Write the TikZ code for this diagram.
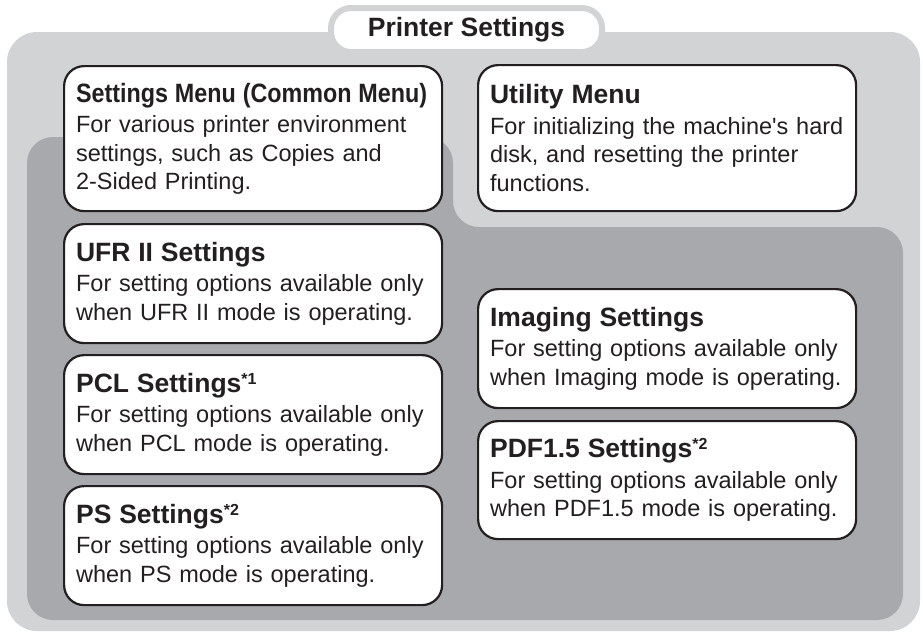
\documentclass[tikz,border=0pt]{standalone}
\usepackage{fontspec}
\setmainfont{Liberation Sans}
\usepackage{graphicx}
\usepackage{xcolor}
\definecolor{lightgrey}{HTML}{D1D3D4}
\definecolor{darkgrey}{HTML}{A7A9AC}
\definecolor{ink}{HTML}{231F20}
\newcommand{\menutext}[2]{{\fontsize{26.5}{28.5}\selectfont\bfseries #1}\\[2pt]#2}
\newcommand{\fnmark}[1]{\smash{\raisebox{8pt}{\fontsize{16}{16}\selectfont *#1}}}

\begin{document}
\begin{tikzpicture}[x=1pt, y=-1pt,
	menu/.style={draw=ink, line width=2.2pt, fill=white, rounded corners=20pt, anchor=north west,
		minimum width=378pt, minimum height=119pt, text width=354pt, inner xsep=12pt, align=left,
		text=ink, font=\fontsize{23.5}{28.5}\selectfont}]
	\useasboundingbox (0,0) rectangle (923,633);
	\fill[lightgrey, rounded corners=30pt] (7,32) rectangle (920,631);
	\fill[darkgrey, rounded corners=26pt] (27,620) -- (27,137) -- (453,137) -- (453,227) -- (903,227) -- (903,620) -- cycle;
	\node[fill=white, draw=lightgrey, line width=6pt, rounded corners=20pt, minimum width=271pt, minimum height=44pt,
		text=ink, font=\fontsize{26.5}{30}\selectfont\bfseries] (title) at (466.5,30) {Printer Settings};
	\node[menu, minimum height=145pt] (common) at (63,65) {\menutext{\scalebox{0.88}[1]{Settings Menu (Common Menu)}}{For various printer environment\\settings, such as Copies and\\2-Sided Printing.}};
	\node[menu, minimum height=146pt] (utility) at (477,64) {\menutext{Utility Menu}{For initializing the machine\textquotesingle s hard\\disk, and resetting the printer\\functions.}};
	\node[menu] (ufr) at (63,223) {\menutext{UFR II Settings}{For setting options available only\\when UFR II mode is operating.}};
	\node[menu] (pcl) at (63,354) {\menutext{PCL Settings\fnmark{1}}{For setting options available only\\when PCL mode is operating.}};
	\node[menu] (ps) at (63,485) {\menutext{PS Settings\fnmark{2}}{For setting options available only\\when PS mode is operating.}};
	\node[menu] (imaging) at (477,288) {\menutext{Imaging Settings}{For setting options available only\\when Imaging mode is operating.}};
	\node[menu, minimum height=118pt] (pdf) at (477,420) {\menutext{PDF1.5 Settings\fnmark{2}}{For setting options available only\\when PDF1.5 mode is operating.}};
\end{tikzpicture}
\end{document}
